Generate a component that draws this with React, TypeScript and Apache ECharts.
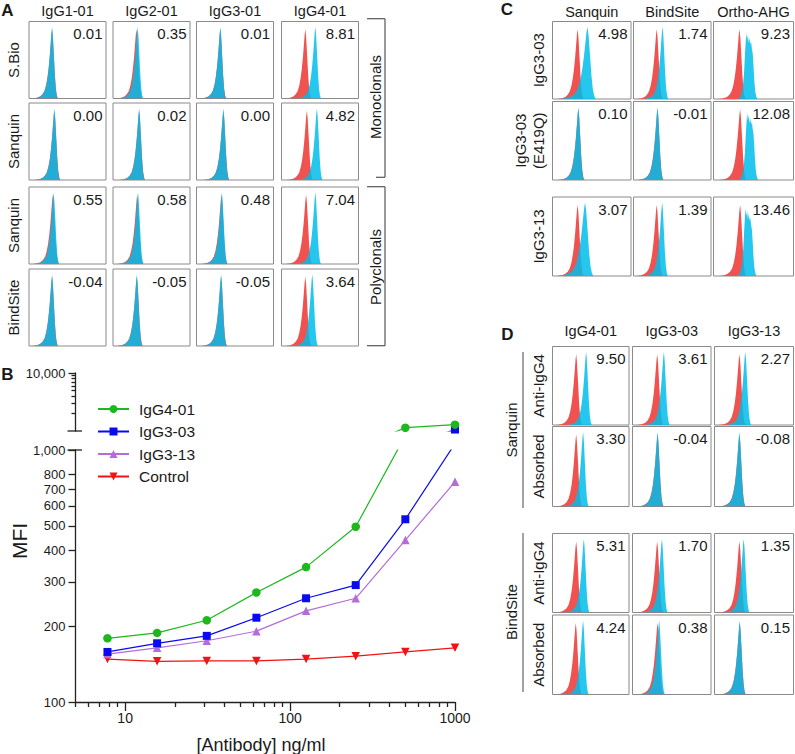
import React, { useEffect, useRef } from "react";
import * as echarts from "echarts";

const FONT = "'Liberation Sans', Arial, Helvetica, sans-serif";
const TEXT = "#1a1a1a";

// ---------- Histogram templates (offset from peak as box-width fraction, relative height) ----------
const peakOffsets = [-0.25, -0.19, -0.15, -0.12, -0.095, -0.075, -0.058, -0.044, -0.03, -0.018, -0.008, 0, 0.01, 0.022, 0.035, 0.048, 0.06, 0.072];
const peakHeights = [0, 0.01, 0.03, 0.06, 0.11, 0.19, 0.3, 0.43, 0.6, 0.78, 0.93, 1, 0.88, 0.62, 0.33, 0.13, 0.04, 0];
const broadOffsets = [-0.1, -0.07, -0.045, -0.028, -0.014, 0, 0.01, 0.02, 0.03, 0.04, 0.05, 0.06, 0.07, 0.08, 0.09, 0.1, 0.112, 0.125, 0.14];
const broadHeights = [0, 0.04, 0.14, 0.36, 0.66, 0.9, 0.8, 0.87, 0.76, 0.83, 0.74, 0.78, 0.68, 0.62, 0.45, 0.25, 0.1, 0.03, 0];

// ---------- Panel A ----------
const aColumns = ["IgG1-01", "IgG2-01", "IgG3-01", "IgG4-01"];
const aRows = ["S.Bio", "Sanquin", "Sanquin", "BindSite"];
const aGroups = ["Monoclonals", "Polyclonals"];
const aValues = [
  ["0.01", "0.35", "0.01", "8.81"],
  ["0.00", "0.02", "0.00", "4.82"],
  ["0.55", "0.58", "0.48", "7.04"],
  ["-0.04", "-0.05", "-0.05", "3.64"],
];
const aRedPeak = [
  [0.3, 0.305, 0.31, 0.31],
  [0.33, 0.34, 0.35, 0.33],
  [0.31, 0.315, 0.325, 0.32],
  [0.3, 0.31, 0.32, 0.31],
];
const aCyanPeak = [
  [0.3, 0.32, 0.31, 0.44],
  [0.33, 0.34, 0.35, 0.46],
  [0.32, 0.325, 0.33, 0.44],
  [0.3, 0.31, 0.32, 0.4],
];

// ---------- Panel C ----------
const cColumns = ["Sanquin", "BindSite", "Ortho-AHG"];
const cRows = ["IgG3-03", "IgG3-03\n(E419Q)", "IgG3-13"];
const cValues = [
  ["4.98", "1.74", "9.23"],
  ["0.10", "-0.01", "12.08"],
  ["3.07", "1.39", "13.46"],
];
const cRedPeak = [
  [0.32, 0.3, 0.325],
  [0.33, 0.31, 0.333],
  [0.32, 0.3, 0.333],
];
const cCyanPeak = [
  [0.445, 0.375, 0.41],
  [0.33, 0.31, 0.42],
  [0.415, 0.37, 0.4],
];
const cCyanShape = [
  ["wide", "narrow", "broad"],
  ["narrow", "narrow", "broad"],
  ["wide", "narrow", "broad"],
];

// ---------- Panel D ----------
const dColumns = ["IgG4-01", "IgG3-03", "IgG3-13"];
const dGroups = ["Sanquin", "BindSite"];
const dRows = ["Anti-IgG4", "Absorbed", "Anti-IgG4", "Absorbed"];
const dValues = [
  ["9.50", "3.61", "2.27"],
  ["3.30", "-0.04", "-0.08"],
  ["5.31", "1.70", "1.35"],
  ["4.24", "0.38", "0.15"],
];
const dRedPeak = [
  [0.31, 0.315, 0.316],
  [0.31, 0.32, 0.316],
  [0.31, 0.315, 0.316],
  [0.305, 0.32, 0.32],
];
const dCyanPeak = [
  [0.44, 0.4, 0.39],
  [0.4, 0.32, 0.316],
  [0.41, 0.375, 0.37],
  [0.4, 0.34, 0.32],
];

// ---------- Panel B ----------
const antibodyConc = [7.8125, 15.625, 31.25, 62.5, 125, 250, 500, 1000];
const seriesNames = ["IgG4-01", "IgG3-03", "IgG3-13", "Control"];
const mfiIgG401 = [179, 188, 211, 272, 343, 496, 1140, 1285];
const mfiIgG303 = [158, 171, 183, 216, 258, 291, 531, 1060];
const mfiIgG313 = [155, 164, 175, 191, 230, 258, 439, 748];
const mfiControl = [148, 145, 145.5, 145.5, 148, 152, 158, 164];
const yTicksLower = [100, 200, 300, 400, 500, 600, 700, 800, 900, 1000];
const yTicksUpperMajor = [10000];
const yTicksUpperMinor = [2000, 3000, 4000, 5000, 6000, 7000, 8000, 9000];
const xTicksMajor = [10, 100, 1000];
const xTicksMinor = [5, 6, 7, 8, 9, 20, 30, 40, 50, 60, 70, 80, 90, 200, 300, 400, 500, 600, 700, 800, 900];

// ---------- Layout ----------
const aLeft = [29, 113, 196.5, 281.5];
const aTop = [21.5, 103, 187, 269];
const aW = 77;
const aH = 77;
const cLeft = [552.5, 633.5, 713.5];
const cW = [78.5, 77.5, 80];
const cTop = [21.5, 101.5, 197];
const cH = [77.5, 78.5, 79];
const dLeft = [552.5, 632.5, 714.5];
const dW = [76.5, 78.5, 79];
const dTop = [346.5, 426.5, 533.5, 615];
const dH = [78.5, 80, 79, 79.5];

const RED = "#F0524F";
const CYAN = "#00BDEB";
const BOX = "#8a8a8a";

function shape(peak: number, scale: number, offs: number[], hs: number[], hmax: number) {
  return offs.map((o, i) => [peak + o * scale, hs[i] * hmax]);
}

function buildOption() {
  const grid: any[] = [];
  const xAxis: any[] = [];
  const yAxis: any[] = [];
  const series: any[] = [];
  const graphic: any[] = [];
  const axisColor = "#222";

  const txt = (text: string, x: number, y: number, opts: any = {}) => {
    graphic.push({
      type: "text",
      x,
      y,
      rotation: opts.rotate ? Math.PI / 2 : 0,
      silent: true,
      style: {
        text,
        fontSize: opts.size || 15,
        fontFamily: FONT,
        fontWeight: opts.bold ? "bold" : "normal",
        fill: TEXT,
        align: opts.align || "center",
        verticalAlign: "middle",
        textAlign: opts.align || "center",
        textVerticalAlign: "middle",
        lineHeight: opts.lineHeight,
      },
    });
  };
  const line = (x1: number, y1: number, x2: number, y2: number, color = "#555", w = 1.2) => {
    graphic.push({ type: "line", silent: true, shape: { x1, y1, x2, y2 }, style: { stroke: color, lineWidth: w } });
  };

  // ===== Panel B =====
  grid.push({ left: 75.5, top: 450, width: 379.5, height: 252, show: false, containLabel: false, outerBoundsMode: "none" });
  grid.push({ left: 75.5, top: 373, width: 379.5, height: 58, show: false, containLabel: false, outerBoundsMode: "none" });
  const lineSty = { color: axisColor, width: 1.3 };
  const labelSty = { fontSize: 13, fontFamily: FONT, color: TEXT, showMinLabel: true, showMaxLabel: true, hideOverlap: false };
  xAxis.push({
    type: "log", logBase: 10, gridIndex: 0, min: 5, max: 1000, position: "bottom",
    axisLine: { show: true, onZero: false, lineStyle: lineSty },
    axisTick: { show: true, customValues: xTicksMajor, length: 9, lineStyle: lineSty },
    axisLabel: { show: true, customValues: xTicksMajor, margin: 9, fontSize: 14, fontFamily: FONT, color: TEXT, showMinLabel: true, showMaxLabel: true, formatter: (v: number) => String(Math.round(v)) },
    splitLine: { show: false }, minorTick: { show: false },
  });
  xAxis.push({
    type: "log", logBase: 10, gridIndex: 0, min: 5, max: 1000, position: "bottom",
    axisLine: { show: false, onZero: false },
    axisTick: { show: true, customValues: xTicksMinor, length: 5, lineStyle: lineSty },
    axisLabel: { show: false }, splitLine: { show: false },
  });
  xAxis.push({ type: "log", logBase: 10, gridIndex: 1, min: 5, max: 1000, show: false });
  const fmt = (v: number) => Math.round(v).toLocaleString("en-US");
  yAxis.push({
    type: "log", logBase: 10, gridIndex: 0, min: 100, max: 1000, position: "left",
    axisLine: { show: true, onZero: false, lineStyle: lineSty },
    axisTick: { show: true, customValues: yTicksLower, length: 7, lineStyle: lineSty },
    axisLabel: { show: true, customValues: yTicksLower, margin: 10, formatter: fmt, ...labelSty },
    splitLine: { show: false },
  });
  yAxis.push({
    type: "log", logBase: 10, gridIndex: 1, min: 1000, max: 10000, position: "left",
    axisLine: { show: true, onZero: false, lineStyle: lineSty },
    axisTick: { show: true, customValues: yTicksUpperMajor, length: 7, lineStyle: lineSty },
    axisLabel: { show: true, customValues: yTicksUpperMajor, margin: 10, formatter: fmt, ...labelSty },
    splitLine: { show: false },
  });
  yAxis.push({
    type: "log", logBase: 10, gridIndex: 1, min: 1000, max: 10000, position: "left",
    axisLine: { show: false, onZero: false },
    axisTick: { show: true, customValues: yTicksUpperMinor, length: 4, lineStyle: lineSty },
    axisLabel: { show: false }, splitLine: { show: false },
  });
  // broken-axis caps
  line(67.5, 431, 82, 431, axisColor, 1.3);
  line(67.5, 450, 82, 450, axisColor, 1.3);

  const bData = [mfiIgG401, mfiIgG303, mfiIgG313, mfiControl];
  const bColors = ["#1CB81C", "#0A0AEE", "#B46CDA", "#EE1414"];
  const bSymbols = ["circle", "rect", "triangle", "triangle"];
  const bRot = [0, 0, 0, 180];
  const bSize = [8.5, 8, 8.5, 8.5];
  const drawOrder = [3, 2, 1, 0];
  for (const g of [0, 1]) {
    for (const i of drawOrder) {
      series.push({
        type: "line",
        name: seriesNames[i],
        xAxisIndex: g === 0 ? 0 : 2,
        yAxisIndex: g === 0 ? 0 : 1,
        data: antibodyConc.map((x, j) => [x, bData[i][j]]),
        symbol: bSymbols[i],
        symbolSize: bSize[i],
        symbolRotate: bRot[i],
        showAllSymbol: true,
        clip: true,
        lineStyle: { color: bColors[i], width: 1.2 },
        itemStyle: { color: bColors[i] },
        emphasis: { disabled: true },
        z: 3 + (3 - i),
      });
    }
  }
  txt("B", 7.5, 374, { size: 17, bold: true });
  txt("MFI", 19, 541, { size: 21, rotate: true });
  txt("[Antibody] ng/ml", 261, 745, { size: 18 });

  // ===== Histogram cell helper =====
  const addCell = (left: number, top: number, w: number, h: number, redPeak: number, cyanPeak: number, cyanShape: string, value: string) => {
    const gi = grid.length;
    grid.push({ left, top, width: w, height: h, show: true, borderColor: BOX, borderWidth: 1, backgroundColor: "transparent", containLabel: false, outerBoundsMode: "none" });
    const xi = xAxis.length;
    xAxis.push({ type: "value", gridIndex: gi, min: 0, max: 1, show: false });
    const yi = yAxis.length;
    yAxis.push({ type: "value", gridIndex: gi, min: 0, max: 1, show: false });
    series.push({
      type: "line", xAxisIndex: xi, yAxisIndex: yi, silent: true, symbol: "none", clip: true,
      data: shape(redPeak, 1.05, peakOffsets, peakHeights, 0.9),
      lineStyle: { width: 0, opacity: 0 }, areaStyle: { color: RED, opacity: 1 },
    });
    const cy =
      cyanShape === "broad"
        ? shape(cyanPeak, 1, broadOffsets, broadHeights, 0.95)
        : shape(cyanPeak, cyanShape === "wide" ? 1.45 : 1, peakOffsets, peakHeights, 0.93);
    series.push({
      type: "line", xAxisIndex: xi, yAxisIndex: yi, silent: true, symbol: "none", clip: true,
      data: cy,
      lineStyle: { width: 0, opacity: 0 }, areaStyle: { color: CYAN, opacity: 0.85 },
    });
    txt(value, left + w - 3.5, top + 12, { size: 15, align: "right" });
  };

  // ===== Panel A =====
  txt("A", 7.5, 10, { size: 17, bold: true });
  aColumns.forEach((c, j) => txt(c, aLeft[j] + aW / 2, 11, { size: 14.5 }));
  aRows.forEach((r, i) => txt(r, 13.5, aTop[i] + aH / 2, { size: 15, rotate: true }));
  for (let i = 0; i < 4; i++)
    for (let j = 0; j < 4; j++)
      addCell(aLeft[j], aTop[i], aW, aH, aRedPeak[i][j], aCyanPeak[i][j], "narrow", aValues[i][j]);
  // brackets
  line(367, 18.7, 385, 18.7);
  line(385, 18.7, 385, 177.3);
  line(376, 177.3, 385, 177.3);
  line(367, 186.7, 385, 186.7);
  line(385, 186.7, 385, 345.7);
  line(367, 345.7, 385, 345.7);
  txt(aGroups[0], 375.5, 97, { size: 15, rotate: true });
  txt(aGroups[1], 375.5, 267, { size: 15, rotate: true });

  // ===== Panel C =====
  txt("C", 507, 9.5, { size: 17, bold: true });
  cColumns.forEach((c, j) => txt(c, cLeft[j] + cW[j] / 2, 12, { size: 14.5 }));
  cRows.forEach((r, i) => txt(r, i === 1 ? 529.5 : 538.5, cTop[i] + cH[i] / 2, { size: 15, rotate: true, lineHeight: 18 }));
  for (let i = 0; i < 3; i++)
    for (let j = 0; j < 3; j++)
      addCell(cLeft[j], cTop[i], cW[j], cH[i], cRedPeak[i][j], cCyanPeak[i][j], cCyanShape[i][j], cValues[i][j]);

  // ===== Panel D =====
  txt("D", 507.5, 334, { size: 17, bold: true });
  dColumns.forEach((c, j) => txt(c, dLeft[j] + dW[j] / 2, 331, { size: 14.5 }));
  dRows.forEach((r, i) => txt(r, 538.5, dTop[i] + dH[i] / 2, { size: 15, rotate: true }));
  line(523, 352, 523, 508, "#666", 1.2);
  line(523, 533, 523, 692, "#666", 1.2);
  txt(dGroups[0], 511, 430, { size: 15, rotate: true });
  txt(dGroups[1], 511, 612, { size: 15, rotate: true });
  for (let i = 0; i < 4; i++)
    for (let j = 0; j < 3; j++)
      addCell(dLeft[j], dTop[i], dW[j], dH[i], dRedPeak[i][j], dCyanPeak[i][j], "narrow", dValues[i][j]);

  return {
    animation: false,
    backgroundColor: "#ffffff",
    textStyle: { fontFamily: FONT },
    tooltip: { show: false },
    legend: {
      data: seriesNames,
      orient: "vertical",
      left: 92,
      top: 396,
      itemWidth: 31,
      itemHeight: 10,
      itemGap: 6.5,
      selectedMode: false,
      textStyle: { fontSize: 15.5, fontFamily: FONT, color: TEXT, lineHeight: 16, padding: [0, 0, 0, 5] },
    },
    grid,
    xAxis,
    yAxis,
    series,
    graphic: { elements: graphic },
  };
}

export default function App() {
  const ref = useRef<HTMLDivElement>(null);
  useEffect(() => {
    document.body.style.margin = "0";
    const chart = echarts.init(ref.current!, null, { renderer: "svg" });
    chart.setOption(buildOption() as any);
    return () => chart.dispose();
  }, []);
  return <div ref={ref} style={{ width: 795, height: 754 }} />;
}
